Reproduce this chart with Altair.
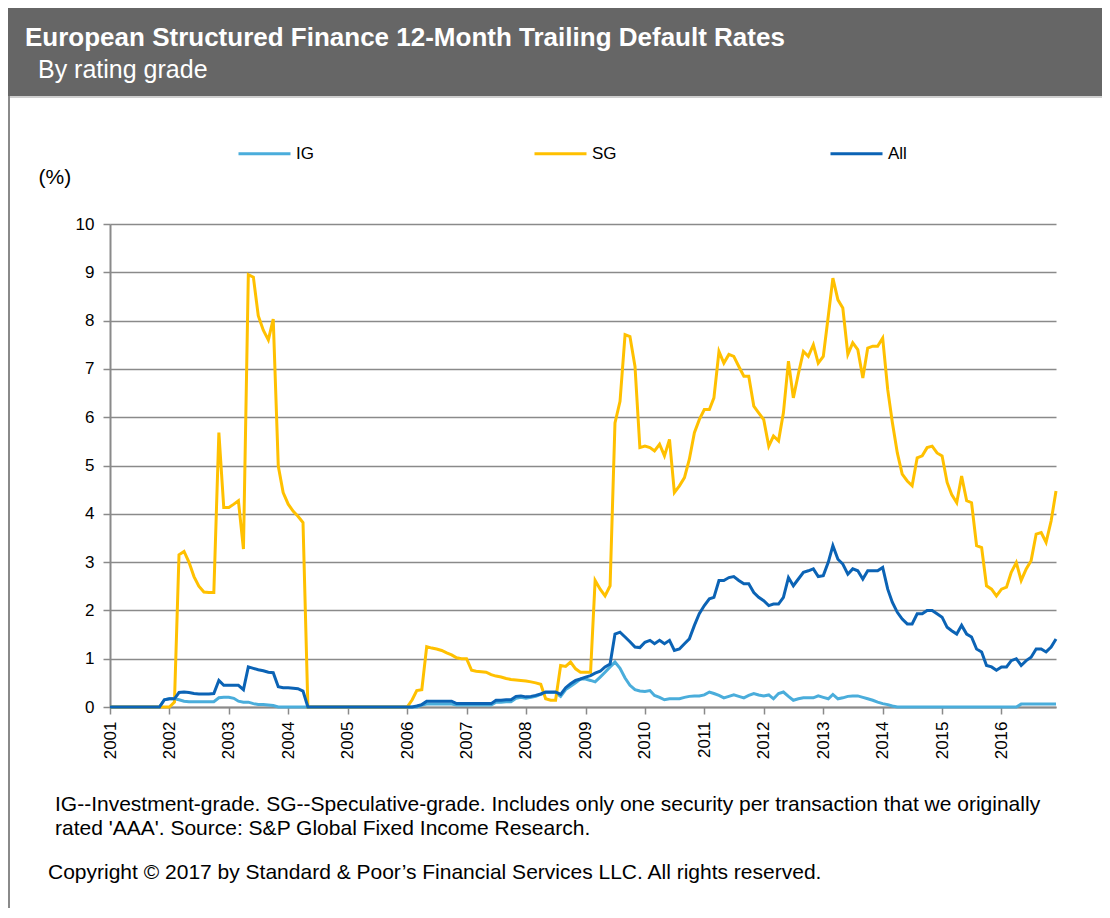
import altair as alt
import pandas as pd

# ---------------- data (monthly, Jan 2001 - Dec 2016) ----------------
series_names = ["IG", "SG", "All"]
series_colors = ["#4AADDB", "#FFC000", "#0B63B5"]

sg_values = [
    # 2001
    0, 0, 0, 0, 0, 0, 0, 0, 0, 0, 0, 0,
    # 2002
    0, 0.1, 3.15, 3.22, 3.0, 2.7, 2.5, 2.38, 2.37, 2.37, 5.68, 4.13,
    # 2003
    4.13, 4.2, 4.27, 3.27, 8.95, 8.9, 8.1, 7.8, 7.6, 8.03, 4.99, 4.44,
    # 2004
    4.2, 4.05, 3.95, 3.82, 0, 0, 0, 0, 0, 0, 0, 0,
    # 2005
    0, 0, 0, 0, 0, 0, 0, 0, 0, 0, 0, 0,
    # 2006
    0, 0.15, 0.34, 0.36, 1.25, 1.22, 1.2, 1.17, 1.12, 1.08, 1.02, 1.0,
    # 2007
    1.0, 0.76, 0.74, 0.73, 0.72, 0.67, 0.64, 0.62, 0.59, 0.57, 0.56, 0.55,
    # 2008
    0.54, 0.52, 0.5, 0.47, 0.17, 0.14, 0.14, 0.86, 0.84, 0.93, 0.79, 0.72,
    # 2009
    0.72, 0.72, 2.62, 2.44, 2.3, 2.51, 5.88, 6.33, 7.71, 7.67, 7.05, 5.37,
    # 2010
    5.4, 5.37, 5.3, 5.44, 5.2, 5.54, 4.44, 4.58, 4.75, 5.13, 5.68, 5.95,
    # 2011
    6.16, 6.16, 6.4, 7.36, 7.12, 7.3, 7.26, 7.05, 6.85, 6.85, 6.23, 6.09,
    # 2012
    5.95, 5.4, 5.61, 5.51, 6.09, 7.16, 6.4, 6.9, 7.36, 7.26, 7.5, 7.12,
    # 2013
    7.26, 8.1, 8.88, 8.43, 8.26, 7.3, 7.54, 7.4, 6.81, 7.43, 7.47, 7.47,
    # 2014
    7.64, 6.57, 5.9, 5.26, 4.82, 4.68, 4.58, 5.16, 5.2, 5.37, 5.4, 5.26,
    # 2015
    5.2, 4.65, 4.4, 4.23, 4.78, 4.27, 4.23, 3.34, 3.3, 2.51, 2.44, 2.3,
    # 2016
    2.44, 2.48, 2.79, 2.99, 2.62, 2.86, 3.03, 3.58, 3.61, 3.41, 3.85, 4.47,
]

all_values = [
    # 2001
    0, 0, 0, 0, 0, 0, 0, 0, 0, 0, 0, 0.15,
    # 2002
    0.17, 0.17, 0.3, 0.31, 0.3, 0.28, 0.27, 0.27, 0.27, 0.28, 0.55, 0.45,
    # 2003
    0.45, 0.45, 0.45, 0.36, 0.83, 0.8, 0.77, 0.75, 0.72, 0.71, 0.42, 0.4,
    # 2004
    0.4, 0.39, 0.38, 0.33, 0, 0, 0, 0, 0, 0, 0, 0,
    # 2005
    0, 0, 0, 0, 0, 0, 0, 0, 0, 0, 0, 0,
    # 2006
    0, 0, 0.02, 0.05, 0.12, 0.12, 0.12, 0.12, 0.12, 0.12, 0.07, 0.07,
    # 2007
    0.07, 0.07, 0.07, 0.07, 0.07, 0.07, 0.14, 0.14, 0.15, 0.15, 0.22, 0.23,
    # 2008
    0.21, 0.22, 0.24, 0.27, 0.31, 0.31, 0.31, 0.26, 0.4, 0.48, 0.55, 0.58,
    # 2009
    0.62, 0.65, 0.7, 0.74, 0.83, 0.89, 1.51, 1.55, 1.45, 1.35, 1.24, 1.23,
    # 2010
    1.34, 1.38, 1.31, 1.38, 1.31, 1.38, 1.17, 1.2, 1.31, 1.41, 1.69, 1.93,
    # 2011
    2.1, 2.24, 2.27, 2.62, 2.62, 2.68, 2.7, 2.62, 2.55, 2.55, 2.37, 2.27,
    # 2012
    2.2, 2.1, 2.13, 2.13, 2.27, 2.68, 2.51, 2.65, 2.79, 2.82, 2.86, 2.7,
    # 2013
    2.72, 3.0, 3.34, 3.06, 2.96, 2.75, 2.86, 2.82, 2.65, 2.82, 2.82, 2.82,
    # 2014
    2.89, 2.44, 2.17, 1.96, 1.82, 1.72, 1.72, 1.93, 1.93, 2.0, 2.0, 1.93,
    # 2015
    1.86, 1.65, 1.58, 1.51, 1.69, 1.51, 1.45, 1.2, 1.14, 0.86, 0.83, 0.76,
    # 2016
    0.83, 0.83, 0.96, 1.0, 0.86, 0.96, 1.03, 1.2, 1.2, 1.14, 1.24, 1.41,
]

ig_values = [
    # 2001
    0, 0, 0, 0, 0, 0, 0, 0, 0, 0, 0, 0.15,
    # 2002
    0.17, 0.17, 0.15, 0.12, 0.11, 0.11, 0.11, 0.11, 0.11, 0.11, 0.19, 0.2,
    # 2003
    0.2, 0.18, 0.12, 0.1, 0.1, 0.07, 0.05, 0.05, 0.04, 0.03, 0, 0,
    # 2004
    0, 0, 0, 0, 0, 0, 0, 0, 0, 0, 0, 0,
    # 2005
    0, 0, 0, 0, 0, 0, 0, 0, 0, 0, 0, 0,
    # 2006
    0, 0, 0, 0.04, 0.06, 0.06, 0.06, 0.06, 0.06, 0.06, 0.04, 0.04,
    # 2007
    0.04, 0.04, 0.04, 0.04, 0.04, 0.04, 0.1, 0.1, 0.11, 0.11, 0.18, 0.2,
    # 2008
    0.18, 0.2, 0.22, 0.26, 0.3, 0.3, 0.3, 0.22, 0.36, 0.43, 0.5, 0.58,
    # 2009
    0.58, 0.55, 0.52, 0.62, 0.72, 0.83, 0.93, 0.8, 0.6, 0.45, 0.36, 0.33,
    # 2010
    0.32, 0.34, 0.24, 0.2, 0.15, 0.17, 0.17, 0.17, 0.2, 0.22, 0.23, 0.23,
    # 2011
    0.25, 0.31, 0.28, 0.24, 0.19, 0.22, 0.25, 0.22, 0.19, 0.24, 0.28, 0.25,
    # 2012
    0.23, 0.25, 0.17, 0.28, 0.31, 0.22, 0.14, 0.17, 0.19, 0.19, 0.19, 0.23,
    # 2013
    0.2, 0.17, 0.26, 0.17, 0.19, 0.22, 0.23, 0.23, 0.2, 0.17, 0.14, 0.1,
    # 2014
    0.07, 0.05, 0.02, 0, 0, 0, 0, 0, 0, 0, 0, 0,
    # 2015
    0, 0, 0, 0, 0, 0, 0, 0, 0, 0, 0, 0,
    # 2016
    0, 0, 0, 0, 0.06, 0.06, 0.06, 0.06, 0.06, 0.06, 0.06, 0.06,
]

year_labels = list(range(2001, 2017))
y_ticks = list(range(0, 11))

title_text = "European Structured Finance 12-Month Trailing Default Rates"
subtitle_text = "By rating grade"
unit_text = "(%)"
note_lines = [
    "IG--Investment-grade. SG--Speculative-grade. Includes only one security per  transaction that we originally",
    "rated 'AAA'. Source: S&P Global Fixed Income  Research.",
]
copyright_text = "Copyright \u00a9 2017 by Standard & Poor\u2019s Financial Services LLC. All rights reserved."

# ---------------- build table ----------------
months = [f"{y}-{m:02d}-01T00:00:00" for y in year_labels for m in range(1, 13)]
rows = []
for name, vals in zip(series_names, [ig_values, sg_values, all_values]):
    for d, v in zip(months, vals):
        rows.append({"date": d, "series": name, "value": v})
df = pd.DataFrame(rows)

FONT = "Liberation Sans"
W, H = 946, 483
GRID = "#8a8a8a"

lines = alt.Chart(df).mark_line(strokeWidth=3, clip=False).encode(
    x=alt.X(
        "date:T",
        scale=alt.Scale(domain=[months[0], months[-1]]),
        axis=alt.Axis(
            title=None,
            values=[alt.DateTime(year=y, month=1, date=1) for y in year_labels],
            format="%Y",
            labelAngle=270,
            labelFontSize=17,
            labelFont=FONT,
            labelColor="#000000",
            labelPadding=7,
            tickSize=7,
            tickColor=GRID,
            tickWidth=1.5,
            domainColor=GRID,
            domainWidth=2,
            grid=False,
        ),
    ),
    y=alt.Y(
        "value:Q",
        scale=alt.Scale(domain=[0, 10], nice=False),
        axis=alt.Axis(
            title=unit_text,
            titleAngle=0,
            titleAlign="left",
            titleBaseline="middle",
            titleX=-72,
            titleY=-47,
            titleFont=FONT,
            titleFontSize=21,
            titleFontWeight="normal",
            titleColor="#000000",
            values=y_ticks,
            labelFontSize=17,
            labelFont=FONT,
            labelColor="#000000",
            labelPadding=9,
            tickSize=7,
            tickColor=GRID,
            tickWidth=1.5,
            domainColor=GRID,
            domainWidth=2,
            grid=True,
            gridColor=GRID,
            gridWidth=1.6,
        ),
    ),
    color=alt.Color(
        "series:N",
        scale=alt.Scale(domain=series_names, range=series_colors),
        legend=alt.Legend(
            title=None,
            orient="none",
            direction="horizontal",
            legendX=127,
            legendY=-98,
            symbolType="stroke",
            symbolSize=2704,
            symbolStrokeWidth=3,
            labelFont=FONT,
            labelFontSize=17,
            labelColor="#000000",
            labelOffset=4,
            columnPadding=207,
            gridAlign="all",
            padding=0,
        ),
    ),
)

one = alt.Data(values=[{}])

header = alt.Chart(one).mark_rect(color="#666666").encode(
    x=alt.value(-102), x2=alt.value(992), y=alt.value(-216), y2=alt.value(-128)
)
header_line = alt.Chart(one).mark_rule(color="#cfcfcf", strokeWidth=2).encode(
    x=alt.value(-102), x2=alt.value(992), y=alt.value(-127)
)
left_border = alt.Chart(one).mark_rule(color=GRID, strokeWidth=2).encode(
    x=alt.value(-101), y=alt.value(-128), y2=alt.value(684)
)
title = alt.Chart(one).mark_text(
    text=title_text, font=FONT, fontSize=26, fontWeight="bold", color="#ffffff",
    align="left", baseline="middle"
).encode(x=alt.value(-85), y=alt.value(-186))
subtitle = alt.Chart(one).mark_text(
    text=subtitle_text, font=FONT, fontSize=25, color="#ffffff",
    align="left", baseline="middle"
).encode(x=alt.value(-72), y=alt.value(-154))
note1 = alt.Chart(one).mark_text(
    text=note_lines[0], font=FONT, fontSize=21, color="#000000",
    align="left", baseline="middle"
).encode(x=alt.value(-55), y=alt.value(581))
note2 = alt.Chart(one).mark_text(
    text=note_lines[1], font=FONT, fontSize=21, color="#000000",
    align="left", baseline="middle"
).encode(x=alt.value(-55), y=alt.value(605))
copyright_mark = alt.Chart(one).mark_text(
    text=copyright_text, font=FONT, fontSize=21, color="#000000",
    align="left", baseline="middle"
).encode(x=alt.value(-62), y=alt.value(649))

chart = alt.layer(
    header, header_line, left_border, lines, title, subtitle, note1, note2, copyright_mark
).properties(
    width=W,
    height=H,
    autosize=alt.AutoSizeParams(type="none"),
    padding={"left": 102, "top": 216, "right": 46, "bottom": 201},
    background="#ffffff",
).configure_view(stroke=None)

chart.save("out.html", embed_options={"renderer": "svg", "actions": False})
